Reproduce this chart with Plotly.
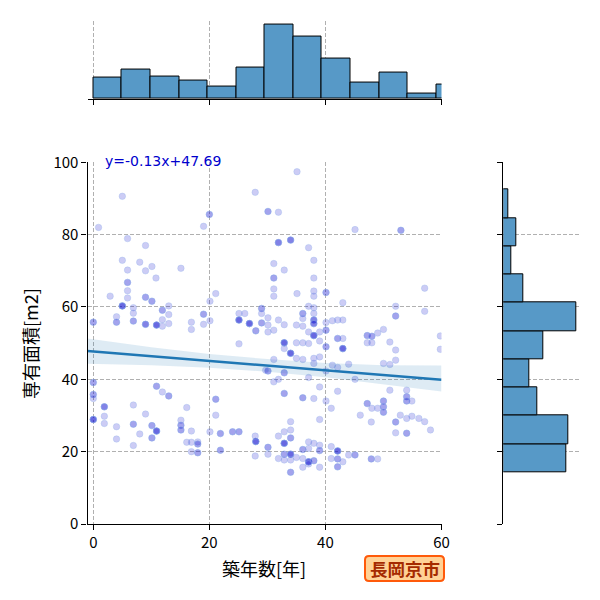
import numpy as np
import plotly.graph_objects as go

# ---------------- data ----------------
# scatter points: building age [years], floor area [m2], estimated overlap count
age = [5.0, 0.9, 20.0, 19.0, 27.9, 35.1, 30.1, 31.9, 45.1, 53.0, 5.9, 9.0, 31.9, 34.0, 37.1,
       5.0, 8.0, 10.1, 9.0, 5.9, 15.1, 10.8, 31.1, 38.0, 32.9, 31.1, 38.0,
       5.9, 5.9, 5.9, 2.9, 9.0, 10.1, 5.0, 6.9, 6.9, 11.9, 13.0, 13.0, 11.9, 13.0, 11.9,
       0.0, 4.0, 4.0, 6.9, 9.0, 10.9, 16.9, 16.9, 19.0, 19.0, 20.1, 20.1, 21.1,
       25.1, 25.1, 26.1, 26.9, 28.0, 29.0, 29.0, 29.0, 31.1, 31.1, 35.1, 38.0, 38.0, 40.1, 43.0,
       57.1, 57.1, 52.1, 52.1, 30.1, 30.1, 30.1, 31.1, 31.9, 32.9, 35.0, 36.1, 36.1, 36.1, 37.1,
       37.1, 38.0, 38.0, 38.0, 38.0, 38.0, 39.0, 40.1, 40.1, 41.2, 42.1, 43.0, 42.1, 43.0,
       47.2, 48.0, 47.2, 48.0, 49.0, 50.0, 51.1, 59.8, 59.8,
       32.9, 32.9, 34.0, 35.0, 36.1, 37.1, 40.1, 39.0, 43.0, 52.1, 52.1, 50.0, 51.1, 44.0,
       31.1, 30.1, 32.9, 31.1, 31.9, 35.0, 36.1, 38.0, 38.0, 39.0, 37.1, 39.0, 40.1, 41.2, 42.1,
       42.1, 45.1, 25.1, 29.7,
       32.9, 36.1, 38.0, 40.1, 41.0, 39.0, 47.2, 48.0, 49.0, 50.0, 50.0, 50.0, 51.1, 54.0, 54.0,
       54.0, 54.9, 46.0, 47.9, 52.1, 52.9, 54.0, 54.9, 56.1, 57.1, 58.1, 52.1, 54.0,
       34.0, 34.0, 34.0, 32.9, 31.9, 32.9, 30.1, 30.1, 32.9, 34.0, 31.9, 32.9, 34.0, 35.0,
       36.1, 36.1, 37.1, 37.1, 38.0, 39.0, 39.0, 37.1, 38.0, 37.1, 39.0, 36.1, 34.0,
       41.0, 42.1, 41.0, 42.1, 42.1, 44.0, 45.1, 43.0, 47.9, 49.0, 28.0, 27.9, 27.9,
       0.0, 0.0, 0.0, 0.0, 1.9, 1.9, 1.9, 4.0, 4.0, 6.9, 6.9, 6.9, 8.0, 9.0, 10.1, 10.9, 10.1,
       10.9, 11.9, 13.0, 15.1, 15.1, 15.1, 16.1, 16.1, 16.9, 18.0, 18.0, 18.0, 16.9, 16.9,
       20.1, 21.1, 21.1, 21.9, 21.9, 24.0, 25.1]
area = [90.6, 82.0, 85.6, 82.3, 91.7, 97.4, 86.4, 86.2, 81.4, 81.2, 78.9, 77.0, 77.8, 78.5, 76.4,
        72.9, 72.4, 71.2, 70.0, 70.2, 70.7, 68.0, 72.0, 72.9, 70.2, 68.0, 68.0,
        66.8, 64.5, 62.5, 63.0, 62.7, 61.6, 60.3, 59.8, 58.3, 59.1, 60.3, 57.9, 56.5, 55.4, 54.7,
        55.8, 57.3, 55.8, 56.1, 55.2, 55.0, 55.8, 53.8, 58.0, 55.2, 56.2, 61.6, 63.7,
        58.2, 56.4, 58.2, 55.4, 53.4, 59.6, 58.2, 55.6, 65.0, 63.0, 63.7, 64.4, 63.0, 64.0, 61.2,
        65.2, 58.8, 60.2, 57.5, 57.0, 55.0, 53.1, 53.6, 56.4, 55.1, 55.0, 58.2, 56.8, 54.7, 53.1,
        60.2, 59.8, 58.2, 56.4, 55.4, 52.1, 53.1, 55.7, 53.6, 56.2, 56.4, 56.4, 51.3, 51.3,
        52.1, 51.9, 50.1, 50.1, 52.8, 53.8, 50.3, 52.0, 48.3,
        50.1, 48.5, 47.2, 50.1, 50.1, 49.9, 49.0, 50.6, 48.5, 48.1, 45.3, 44.4, 44.1, 44.2,
        45.5, 42.3, 41.8, 39.3, 40.0, 45.8, 45.5, 44.4, 45.8, 46.2, 40.5, 37.9, 42.3, 43.9, 43.3,
        36.7, 40.0, 49.8, 42.5,
        36.1, 34.9, 34.7, 34.0, 32.0, 28.9, 33.3, 32.0, 32.0, 34.0, 32.4, 30.9, 37.0, 37.0, 35.2,
        34.0, 34.0, 30.1, 28.2, 28.2, 30.1, 29.2, 29.8, 29.2, 28.3, 26.0, 25.2, 25.1,
        28.3, 26.0, 23.8, 25.5, 24.3, 22.3, 21.2, 19.3, 19.3, 19.3, 18.1, 17.7, 17.7, 18.4,
        20.6, 18.1, 22.7, 20.9, 22.3, 21.8, 20.3, 17.2, 17.5, 16.6, 15.7, 15.7, 14.3,
        21.4, 20.2, 18.1, 18.0, 15.8, 19.1, 19.1, 17.2, 18.0, 18.0, 22.8, 24.3, 18.8,
        39.1, 35.8, 34.7, 28.9, 32.4, 29.8, 27.8, 26.9, 23.5, 32.9, 27.6, 21.7, 24.9, 30.4, 27.2, 25.7, 23.8,
        38.1, 36.5, 35.4, 28.7, 27.3, 26.0, 32.2, 22.6, 22.6, 22.7, 22.1, 19.7, 20.0, 25.7,
        25.5, 34.5, 30.1, 25.0, 20.4, 25.5, 25.5]
overlap = [1, 1, 2, 1, 1, 1, 2, 1, 1, 2, 1, 1, 3, 3, 1,
           1, 1, 1, 1, 1, 1, 1, 1, 1, 1, 2, 1,
           2, 1, 1, 1, 2, 2, 4, 1, 1, 2, 1, 1, 1, 1, 1,
           2, 1, 2, 2, 3, 4, 1, 1, 2, 1, 1, 1, 1,
           1, 4, 1, 4, 2, 2, 1, 2, 1, 1, 1, 1, 1, 2, 1,
           1, 1, 1, 2, 1, 1, 1, 1, 1, 1, 1, 2, 1, 1, 1,
           1, 1, 1, 3, 3, 4, 1, 1, 2, 1, 1, 1, 2, 1,
           2, 2, 1, 1, 1, 1, 1, 1, 1,
           4, 1, 4, 1, 1, 1, 2, 1, 4, 1, 1, 1, 1, 1,
           1, 2, 2, 1, 1, 1, 1, 1, 1, 1, 1, 1, 1, 1, 1,
           1, 1, 1, 1,
           2, 2, 1, 1, 1, 1, 2, 1, 1, 2, 2, 2, 1, 1, 2,
           2, 1, 1, 1, 2, 1, 1, 1, 1, 1, 1, 1, 2,
           1, 1, 2, 1, 1, 4, 2, 1, 2, 4, 1, 1, 1, 1,
           2, 1, 1, 1, 1, 1, 2, 4, 2, 1, 1, 1, 2,
           1, 4, 1, 2, 2, 1, 2, 1, 2, 1, 4, 1, 1,
           2, 2, 1, 4, 3, 1, 1, 1, 1, 1, 2, 1, 1, 1, 2, 4, 2,
           2, 1, 2, 1, 2, 2, 1, 1, 1, 1, 2, 2, 1, 1,
           1, 2, 1, 2, 2, 2, 2]

# marginal histogram counts
age_bin_counts = [15, 21, 16, 13, 9, 22, 53, 44, 29, 12, 19, 4, 10]   # bins of 築年数 starting at 0
AGE_BIN_START, AGE_BIN_WIDTH = 0.0, 64.0 / 13
area_bin_counts = [48, 50, 26, 20, 31, 56, 15, 6, 10, 4]            # bins of 専有面積 from bottom
AREA_BIN_START, AREA_BIN_WIDTH = 14.28, 7.818

# regression (as printed on the chart) and its confidence band
slope, intercept = -0.13, 47.69
band_x = [-1, 10, 20, 30, 40, 50, 60]
band_upper = [51.3, 48.9, 47.0, 45.6, 44.5, 43.9, 43.8]
band_lower = [44.3, 43.9, 43.2, 42.1, 40.6, 38.7, 36.6]

x_ticks = [0, 20, 40, 60]
y_ticks = [0, 20, 40, 60, 80, 100]
x_title = "築年数[年]"
y_title = "専有面積[m2]"
city = "長岡京市"

# ---------------- figure ----------------
W = H = 600
FONT = "Noto Sans CJK JP"
GRID = "#b0b0b0"
BAR = "#5799C7"
LINEC = "#1f77b4"


def px(x):
    return x / W


def py(y):
    return (H - y) / H


xs = np.repeat(np.array(age), overlap)
ys = np.repeat(np.array(area), overlap)

fig = go.Figure()

fig.add_trace(go.Scatter(
    x=xs, y=ys, mode="markers", xaxis="x", yaxis="y",
    marker=dict(size=6.5, color="rgba(0,0,205,0.2)",
                line=dict(width=1, color="rgba(150,180,235,0.35)")),
    showlegend=False, hoverinfo="skip"))

# confidence band
fig.add_trace(go.Scatter(x=band_x, y=band_lower, mode="lines", line=dict(width=0),
                         xaxis="x", yaxis="y", showlegend=False, hoverinfo="skip"))
fig.add_trace(go.Scatter(x=band_x, y=band_upper, mode="lines", line=dict(width=0),
                         fill="tonexty", fillcolor="rgba(31,119,180,0.15)",
                         xaxis="x", yaxis="y", showlegend=False, hoverinfo="skip"))
# regression line
lx = np.array([band_x[0], band_x[-1]], dtype=float)
fig.add_trace(go.Scatter(x=lx, y=slope * lx + intercept, mode="lines",
                         line=dict(color=LINEC, width=2.4),
                         xaxis="x", yaxis="y", showlegend=False, hoverinfo="skip"))

# top marginal histogram
age_centers = [AGE_BIN_START + (i + 0.5) * AGE_BIN_WIDTH for i in range(len(age_bin_counts))]
fig.add_trace(go.Bar(x=age_centers, y=age_bin_counts, width=AGE_BIN_WIDTH,
                     marker=dict(color=BAR, line=dict(color="black", width=1)),
                     xaxis="x2", yaxis="y2", showlegend=False, hoverinfo="skip"))
# right marginal histogram
area_centers = [AREA_BIN_START + (i + 0.5) * AREA_BIN_WIDTH for i in range(len(area_bin_counts))]
fig.add_trace(go.Bar(y=area_centers, x=area_bin_counts, width=AREA_BIN_WIDTH, orientation="h",
                     marker=dict(color=BAR, line=dict(color="black", width=1)),
                     xaxis="x3", yaxis="y3", showlegend=False, hoverinfo="skip"))

main_dom_x = [px(87.5), px(441.5)]
main_dom_y = [py(524), py(162.3)]

axis_common = dict(showgrid=True, gridcolor=GRID, griddash="4px,2px", gridwidth=0.9,
                   zeroline=False, showline=True, linecolor="black", linewidth=1.25,
                   ticks="outside", ticklen=5, tickwidth=1.25, tickcolor="black",
                   automargin=False)

fig.update_layout(
    width=W, height=H, margin=dict(l=0, r=0, t=0, b=0, pad=0, autoexpand=False),
    paper_bgcolor="white", plot_bgcolor="white", bargap=0,
    font=dict(family=FONT, size=14, color="black"),
    xaxis=dict(domain=main_dom_x, range=[-1, 60], anchor="y", tickvals=x_ticks,
               tickfont=dict(size=15), **axis_common),
    yaxis=dict(domain=main_dom_y, range=[0, 100], anchor="x", tickvals=y_ticks,
               tickfont=dict(size=15), **axis_common),
    xaxis2=dict(domain=main_dom_x, matches="x", anchor="y2", tickvals=x_ticks,
                showticklabels=False, **axis_common),
    yaxis2=dict(domain=[py(99), py(20.56)], range=[0, 55.65], anchor="x2",
                visible=False, showgrid=False, automargin=False),
    xaxis3=dict(domain=[px(503.3), px(580)], range=[0, 58.8], anchor="y3",
                visible=False, showgrid=False, automargin=False),
    yaxis3=dict(domain=main_dom_y, matches="y", anchor="x3", tickvals=y_ticks,
                showticklabels=False, **axis_common),
)

# regression equation
fig.add_annotation(x=px(103), y=py(161), xref="paper", yref="paper",
                   text=f"y={slope:.2f}x+{intercept:.2f}", showarrow=False,
                   xanchor="left", yanchor="middle",
                   font=dict(family="DejaVu Sans", size=14, color="#0000CD"))
# axis titles
fig.add_annotation(x=px(263.5), y=py(568), xref="paper", yref="paper", text=x_title,
                   showarrow=False, xanchor="center", yanchor="middle",
                   font=dict(family=FONT, size=18, color="black"))
fig.add_annotation(x=px(30), y=py(344), xref="paper", yref="paper", text=y_title,
                   showarrow=False, xanchor="center", yanchor="middle", textangle=-90,
                   font=dict(family=FONT, size=18, color="black"))

# city badge (rounded box)
bx0, bx1, by0, by1, r = 365, 444, 556, 581, 4
path = (f"M {px(bx0 + r)} {py(by0)} L {px(bx1 - r)} {py(by0)} "
        f"Q {px(bx1)} {py(by0)} {px(bx1)} {py(by0 + r)} L {px(bx1)} {py(by1 - r)} "
        f"Q {px(bx1)} {py(by1)} {px(bx1 - r)} {py(by1)} L {px(bx0 + r)} {py(by1)} "
        f"Q {px(bx0)} {py(by1)} {px(bx0)} {py(by1 - r)} L {px(bx0)} {py(by0 + r)} "
        f"Q {px(bx0)} {py(by0)} {px(bx0 + r)} {py(by0)} Z")
fig.add_shape(type="path", path=path, xref="paper", yref="paper",
              fillcolor="#FFD296", line=dict(color="#FF5A0A", width=2), layer="above")
fig.add_annotation(x=px((bx0 + bx1) / 2), y=py((by0 + by1) / 2), xref="paper", yref="paper",
                   text=f"<b>{city}</b>", showarrow=False, xanchor="center", yanchor="middle",
                   font=dict(family=FONT, size=17.5, color="#A52A00"))

fig.write_html("out.html")
